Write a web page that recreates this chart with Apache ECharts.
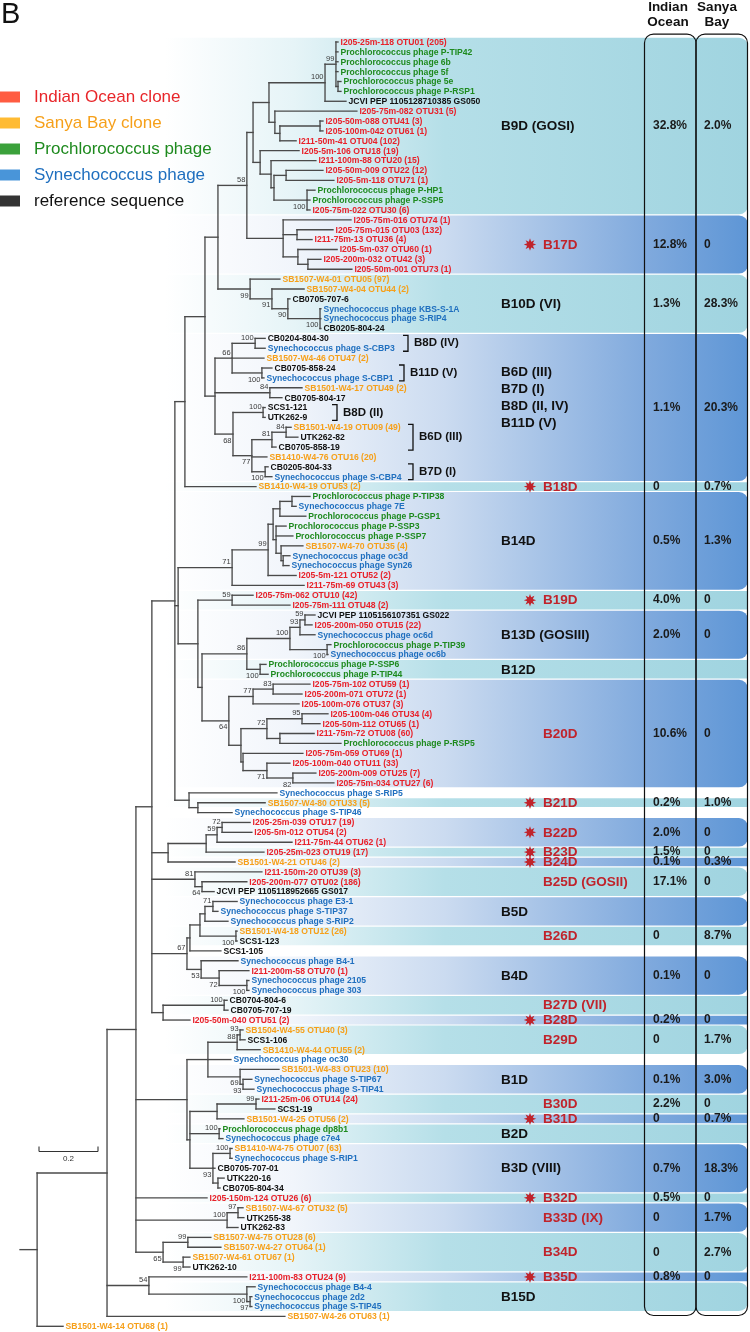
<!DOCTYPE html>
<html><head><meta charset="utf-8">
<script src="https://cdn.jsdelivr.net/npm/echarts@6/dist/echarts.min.js"></script>
<style>html,body{margin:0;padding:0;background:#fff}#c{width:750px;height:1332px}</style>
</head><body><div id="c"></div>
<script>
// ---------------- DATA ----------------
const leafNames = [
'I205-25m-118 OTU01 (205)','Prochlorococcus phage P-TIP42','Prochlorococcus phage 6b','Prochlorococcus phage 5f','Prochlorococcus phage 5e',
'Prochlorococcus phage P-RSP1','JCVI PEP 1105128710385 GS050','I205-75m-082 OTU31 (5)','I205-50m-088 OTU41 (3)','I205-100m-042 OTU61 (1)',
'I211-50m-41 OTU04 (102)','I205-5m-106 OTU18 (19)','I211-100m-88 OTU20 (15)','I205-50m-009 OTU22 (12)','I205-5m-118 OTU71 (1)',
'Prochlorococcus phage P-HP1','Prochlorococcus phage P-SSP5','I205-75m-022 OTU30 (6)','I205-75m-016 OTU74 (1)','I205-75m-015 OTU03 (132)',
'I211-75m-13 OTU36 (4)','I205-5m-037 OTU60 (1)','I205-200m-032 OTU42 (3)','I205-50m-001 OTU73 (1)','SB1507-W4-01 OTU05 (97)',
'SB1507-W4-04 OTU44 (2)','CB0705-707-6','Synechococcus phage KBS-S-1A','Synechococcus phage S-RIP4','CB0205-804-24',
'CB0204-804-30','Synechococcus phage S-CBP3','SB1507-W4-46 OTU47 (2)','CB0705-858-24','Synechococcus phage S-CBP1',
'SB1501-W4-17 OTU49 (2)','CB0705-804-17','SCS1-121','UTK262-9','SB1501-W4-19 OTU09 (49)',
'UTK262-82','CB0705-858-19','SB1410-W4-76 OTU16 (20)','CB0205-804-33','Synechococcus phage S-CBP4',
'SB1410-W4-19 OTU53 (2)','Prochlorococcus phage P-TIP38','Synechococcus phage 7E','Prochlorococcus phage P-GSP1','Prochlorococcus phage P-SSP3',
'Prochlorococcus phage P-SSP7','SB1507-W4-70 OTU35 (4)','Synechococcus phage oc3d','Synechococcus phage Syn26','I205-5m-121 OTU52 (2)',
'I211-75m-69 OTU43 (3)','I205-75m-062 OTU10 (42)','I205-75m-111 OTU48 (2)','JCVI PEP 1105156107351 GS022','I205-200m-050 OTU15 (22)',
'Synechococcus phage oc6d','Prochlorococcus phage P-TIP39','Synechococcus phage oc6b','Prochlorococcus phage P-SSP6','Prochlorococcus phage P-TIP44',
'I205-75m-102 OTU59 (1)','I205-200m-071 OTU72 (1)','I205-100m-076 OTU37 (3)','I205-100m-046 OTU34 (4)','I205-50m-112 OTU65 (1)',
'I211-75m-72 OTU08 (60)','Prochlorococcus phage P-RSP5','I205-75m-059 OTU69 (1)','I205-100m-040 OTU11 (33)','I205-200m-009 OTU25 (7)',
'I205-75m-034 OTU27 (6)','Synechococcus phage S-RIP5','SB1507-W4-80 OTU33 (5)','Synechococcus phage S-TIP46','I205-25m-039 OTU17 (19)',
'I205-5m-012 OTU54 (2)','I211-75m-44 OTU62 (1)','I205-25m-023 OTU19 (17)','SB1501-W4-21 OTU46 (2)','I211-150m-20 OTU39 (3)',
'I205-200m-077 OTU02 (186)','JCVI PEP 1105118952665 GS017','Synechococcus phage E3-1','Synechococcus phage S-TIP37','Synechococcus phage S-RIP2',
'SB1501-W4-18 OTU12 (26)','SCS1-123','SCS1-105','Synechococcus phage B4-1','I211-200m-58 OTU70 (1)',
'Synechococcus phage 2105','Synechococcus phage 303','CB0704-804-6','CB0705-707-19','I205-50m-040 OTU51 (2)',
'SB1504-W4-55 OTU40 (3)','SCS1-106','SB1410-W4-44 OTU55 (2)','Synechococcus phage oc30','SB1501-W4-83 OTU23 (10)',
'Synechococcus phage S-TIP67','Synechococcus phage S-TIP41','I211-25m-06 OTU14 (24)','SCS1-19','SB1501-W4-25 OTU56 (2)',
'Prochlorococcus phage dp8b1','Synechococcus phage c7e4','SB1410-W4-75 OTU07 (63)','Synechococcus phage S-RIP1','CB0705-707-01',
'UTK220-16','CB0705-804-34','I205-150m-124 OTU26 (6)','SB1507-W4-67 OTU32 (5)','UTK255-38',
'UTK262-83','SB1507-W4-75 OTU28 (6)','SB1507-W4-27 OTU64 (1)','SB1507-W4-61 OTU67 (1)','UTK262-10',
'I211-100m-83 OTU24 (9)','Synechococcus phage B4-4','Synechococcus phage 2d2','Synechococcus phage S-TIP45','SB1507-W4-26 OTU63 (1)',
'SB1501-W4-14 OTU68 (1)'];

// Tree topology: leaves are 1-based indices into leafNames; the number after ':' is the
// distance from the root (substitutions/site); numbers after ')' are bootstrap values.
const A_GOSI  = '(1:1.078,2:1.078,3:1.078,4:1.078,(5:1.088,6:1.088):1.078)99:1.071';
const B_GOSI  = '(' + A_GOSI + ',7:1.105)100:1.034';
const N8_11   = '(8:1.142,((9:1.027,10:1.027):1.017,11:0.936):0.881):0.864';
const N12_18  = '(12:0.946,(13:1.003,((14:1.027,15:1.064):0.902,(16:1.000,17:0.983,18:0.983)100:0.973):0.861):0.851):0.814';
const T_B9D   = '((' + B_GOSI + ',' + N8_11 + '):0.844,' + N12_18 + '):0.790';
const N_B17D  = '(19:1.122,(20:1.061,21:0.990):0.939,(22:1.075,(23:1.020,24:1.125):0.976):0.942):0.892';
const N_B10D  = '(25:0.881,(26:0.963,(27:0.915,(28:1.020,29:1.020,30:1.020)100:1.017)90:0.908)91:0.854)99:0.780';
const N1_30   = '((' + T_B9D + ',' + N_B17D + ')58:0.769,' + N_B10D + '):0.671';
const N66     = '((31:0.831,32:0.831)100:0.797,33:0.827,(34:0.854,35:0.827)100:0.820)66:0.719';
const N84     = '(36:0.956,37:0.888)84:0.847';
const N68     = '((38:0.831,39:0.831)100:0.824,(((40:0.919,41:0.942)84:0.902,42:0.868)81:0.854,43:0.837,(44:0.841,45:0.854)100:0.831)77:0.786)68:0.722';
const N185    = '((' + N1_30 + ',(' + N66 + ',' + N84 + ',' + N68 + '):0.661):0.627,46:0.800):0.559';
const N_B14D  = '(((((47:0.983,48:0.936):0.922,49:0.969):0.881,(50:0.902,51:0.925,(52:0.959,(53:0.915,54:0.912):0.892):0.885):0.868):0.858,55:0.936)99:0.841,56:0.963)71:0.719';
const N_B19D  = '(57:0.790,58:0.915)59:0.719';
const N86     = '((((59:1.000,60:0.990)59:0.966,61:1.000)93:0.949,(62:1.054,63:1.044)100:1.041)100:0.915,(64:0.834,65:0.841)100:0.814)86:0.769';
const N_B20D  = '(((66:0.983,67:0.956)83:0.858,68:0.946)77:0.790,(((69:1.044,70:1.017)95:0.956,(71:0.997,72:1.088):0.881)72:0.837,(73:0.959,(74:0.915,(75:1.003,76:1.064)82:0.925)71:0.837):0.756):0.749)64:0.708';
const N178    = '(' + N_B14D + ',(' + N_B19D + ',(' + N86 + ',' + N_B20D + '):0.617):0.603):0.536';
const N189    = '(77:0.871,(78:0.831,79:0.719):0.603):0.573';
const N175    = '(' + N185 + ',' + N178 + ',' + N189 + '):0.525';
const N_F     = '((((80:0.780,81:0.786)72:0.685,82:0.922)59:0.668,83:0.827):0.631,84:0.729):0.502';
const N81     = '(85:0.820,(86:0.769,87:0.658)64:0.617)81:0.593';
const N67     = '(((((88:0.736,89:0.671)71:0.654,90:0.705):0.627,(91:0.736,92:0.736)100:0.732):0.610,93:0.681):0.576,(94:0.739,(95:0.776,(96:0.776,97:0.776)100:0.769)72:0.675)53:0.614)67:0.566';
const N_J     = '((98:0.702,99:0.705)100:0.692,100:0.576):0.485';
const N152    = '(' + N175 + ',' + N_F + ',' + N81 + ',' + N67 + ',' + N_J + '):0.447';
const N208    = '(((101:0.756,102:0.763)93:0.746,103:0.814)88:0.736,104:0.715,(105:0.878,(106:0.786,107:0.793)93:0.756)69:0.746):0.637';
const N190    = '(((108:0.810,109:0.864)99:0.800,110:0.759):0.668,(111:0.678,112:0.688)100:0.675,((113:0.719,114:0.719)100:0.712,115:0.661,(116:0.692,117:0.678):0.671)93:0.654):0.576';
const N100F   = '((119:0.756,120:0.759)97:0.739,121:0.739)100:0.702';
const N65     = '((122:0.647,123:0.681)99:0.569,(124:0.576,125:0.576)99:0.553)65:0.485';
const N136    = '(' + N152 + ',(' + N208 + ',' + N190 + '):0.566,118:0.634,' + N100F + ',' + N65 + '):0.393';
const N54     = '(126:0.769,(127:0.797,(128:0.786,129:0.786)97:0.780)100:0.769)54:0.437';
const TREE    = '((' + N136 + ',' + N54 + ',130:0.898):0.295,131:0.146):0.058';

// clades (leaf ranges, 1-based) and table values
const cladeNames = ['B9D (GOSI)','B17D','B10D (VI)','B6D (III)\nB7D (I)\nB8D (II, IV)\nB11D (V)','B18D','B14D','B19D','B13D (GOSIII)','B12D','B20D',
 'B21D','B22D','B23D','B24D','B25D (GOSII)','B5D','B26D','B4D','B27D (VII)','B28D','B29D','B1D','B30D','B31D','B2D','B3D (VIII)','B32D','B33D (IX)','B34D','B35D','B15D'];
const cladeFirst = [1,19,25,31,46,47,57,59,64,66,78,80,83,84,85,88,91,94,98,100,101,105,108,110,111,113,118,119,122,126,127];
const cladeLast  = [18,24,30,45,46,56,58,63,65,76,78,82,83,84,87,90,92,97,99,100,103,107,109,110,112,117,118,121,125,126,129];
const cladeNovel = [0,1,0,0,1,0,1,0,0,1,1,1,1,1,1,0,1,0,1,1,1,0,1,1,0,0,1,1,1,1,0];   // red (new) clusters
const cladeStar  = [0,1,0,0,1,0,1,0,0,0,1,1,1,1,0,0,0,0,0,1,0,0,0,1,0,0,1,0,0,1,0];
const indianOcean = ['32.8%','12.8%','1.3%','1.1%','0','0.5%','4.0%','2.0%','','10.6%','0.2%','2.0%','1.5%','0.1%','17.1%','','0','0.1%','','0.2%','0','0.1%','2.2%','0','','0.7%','0.5%','0','0','0.8%',''];
const sanyaBay    = ['2.0%','0','28.3%','20.3%','0.7%','1.3%','0','0','','0','1.0%','0','0','0.3%','0','','8.7%','0','','0','1.7%','3.0%','0','0.7%','','18.3%','0','1.7%','2.7%','0',''];

const subNames = ['B8D (IV)','B11D (V)','B8D (II)','B6D (III)','B7D (I)'];
const subFirst = [31,34,38,40,44];
const subLast  = [32,35,39,42,45];

const legendNames = ['Indian Ocean clone','Sanya Bay clone','Prochlorococcus phage','Synechococcus phage','reference sequence'];
const scaleBarValue = 0.2;

// ---------------- STYLE ----------------
const FONT = '"Liberation Sans", Arial, Helvetica, sans-serif';
const SRC_COLORS = {R:'#e8212a', O:'#f6a01a', G:'#1e8a1e', B:'#1f6fbf', K:'#111111'};
const LEGEND_COLORS = ['#ff3311','#ffaa00','#0a8a0a','#1b7bd0','#000000'];
const LEGEND_TEXT = ['#e8262a','#f6a01a','#1e8a1e','#1f6fbf','#111111'];
const BAND_X0 = 165, BAND_X1 = 748;
const BRACKET_X = [408, 404, 337, 413, 413];
function sourceOf(name){
  if (/^I2/.test(name)) return 'R';
  if (/^SB/.test(name)) return 'O';
  if (/^Prochlorococcus/.test(name)) return 'G';
  if (/^Synechococcus/.test(name)) return 'B';
  return 'K';
}

// ---------------- TREE PARSE / LAYOUT ----------------
function parseTree(s){
  let i = 0;
  function num(){ let t=''; while(i<s.length && /[0-9.]/.test(s[i])) t+=s[i++]; return t; }
  function node(){
    if (s[i] === '('){
      i++; const ch = [];
      while (true){ ch.push(node()); if (s[i]===','){i++;continue;} if (s[i]===')'){i++;break;} throw new Error('bad tree at '+i); }
      let boot=''; while(i<s.length && /[0-9]/.test(s[i])) boot+=s[i++];
      let d=0; if (s[i]===':'){ i++; d=+num(); }
      return {children:ch, boot:boot, depth:d};
    }
    const id = +num(); let d=0; if (s[i]===':'){ i++; d=+num(); }
    return {leaf:id-1, depth:d};
  }
  return node();
}
const root = parseTree(TREE);
const segs = [], boots = [], tips = [];
(function lay(n, isLast){
  if (n.leaf !== undefined){ n.y = n.leaf; tips.push([n.depth, n.y, n.leaf]); return; }
  n.children.forEach((c,k)=>lay(c, k===n.children.length-1));
  const f = n.children[0], l = n.children[n.children.length-1];
  n.y = (f.y + l.y)/2;
  segs.push([n.depth, f.y, n.depth, l.y]);
  n.children.forEach(c=>segs.push([n.depth, c.y, c.depth, c.y]));
  if (n.boot) boots.push([n.depth, n.y, n.boot, isLast?1:0]);
})(root, false);
segs.push([0, root.y, root.depth, root.y]);

// ---------------- CHART ----------------
const chart = echarts.init(document.getElementById('c'), null, {renderer:'canvas'});
function grad(kind){
  const stops = kind === 'blue'
    ? [{offset:0,color:'#ffffff'},{offset:0.22,color:'#f1f5fb'},{offset:0.48,color:'#cbdbf0'},{offset:0.83,color:'#7fa9dd'},{offset:1,color:'#5e96d6'}]
    : [{offset:0,color:'#ffffff'},{offset:0.22,color:'#e6f4f7'},{offset:0.48,color:'#b5dfe8'},{offset:1,color:'#a0d4e0'}];
  return new echarts.graphic.LinearGradient(BAND_X0, 0, BAND_X1, 0, stops, true);
}
const gBlue = grad('blue'), gTeal = grad('teal');
const cladeIdx = cladeNames.map((_,i)=>[cladeFirst[i]-1, cladeLast[i]-1, i]);

function rowEdge(api, v){ return api.coord([0, v])[1]; }

const series = [
  { // clade bands
    type:'custom', z:1, clip:false, silent:true, data:cladeIdx,
    renderItem(params, api){
      const i = params.dataIndex;
      const top = rowEdge(api, cladeFirst[i]-1-0.5) + 0.6;
      const bot = rowEdge(api, cladeLast[i]-1+0.5) - 0.6;
      const h = bot-top, r = h > 25 ? 9 : 0;
      return {type:'rect', shape:{x:BAND_X0, y:top, width:BAND_X1-BAND_X0, height:h, r:[0,r,r,0]},
              style:{fill: (i%2===0) ? gTeal : gBlue}};
    }
  },
  { // table column boxes
    type:'custom', z:5, clip:false, silent:true, data:[[0,0]],
    renderItem(params, api){
      const top = rowEdge(api, cladeFirst[0]-1-0.5) - 3;
      const bot = rowEdge(api, cladeLast[cladeLast.length-1]-1+0.5) + 4;
      const st = {fill:'none', stroke:'#111', lineWidth:1.2};
      return {type:'group', children:[
        {type:'rect', shape:{x:644.5, y:top, width:51.5, height:bot-top, r:9}, style:st},
        {type:'rect', shape:{x:696, y:top, width:51.5, height:bot-top, r:9}, style:st}
      ]};
    }
  },
  { // branches
    type:'custom', z:3, clip:false, silent:true, data:segs,
    renderItem(params, api){
      const p1 = api.coord([api.value(0), api.value(1)]);
      const p2 = api.coord([api.value(2), api.value(3)]);
      return {type:'line', shape:{x1:p1[0], y1:p1[1], x2:p2[0], y2:p2[1]},
              style:{stroke:'#4a4a4a', lineWidth:1.35, lineCap:'square'}};
    }
  },
  { // leaf labels
    type:'custom', z:4, clip:false, silent:true, data:tips,
    renderItem(params, api){
      const p = api.coord([api.value(0), api.value(1)]);
      const name = leafNames[api.value(2)];
      return {type:'text', style:{x:p[0]+2.5, y:p[1]+0.5, text:name, fill:SRC_COLORS[sourceOf(name)],
        font:'bold 8.6px '+FONT, textAlign:'left', textVerticalAlign:'middle', align:'left', verticalAlign:'middle'}};
    }
  },
  { // bootstrap values
    type:'custom', z:4, clip:false, silent:true, data:boots,
    renderItem(params, api){
      const p = api.coord([api.value(0), api.value(1)]);
      const below = boots[params.dataIndex][3] === 1;
      return {type:'text', style:{x:p[0]-1.5, y:p[1] + (below ? 6.5 : -5.5), text:String(boots[params.dataIndex][2]),
        fill:'#3a3a3a', font:'7.5px '+FONT, textAlign:'right', textVerticalAlign:'middle', align:'right', verticalAlign:'middle'}};
    }
  },
  { // clade names, stars and percentages
    type:'custom', z:6, clip:false, silent:true, data:cladeIdx,
    renderItem(params, api){
      const i = params.dataIndex;
      const yc = (rowEdge(api, cladeFirst[i]-1) + rowEdge(api, cladeLast[i]-1))/2;
      const novel = cladeNovel[i] === 1;
      const multi = cladeNames[i].indexOf('\n') >= 0;
      const kids = [];
      kids.push({type:'text', style:{x: novel ? 543 : 501, y: yc + 0.5 - (multi ? 10 : 0), text: cladeNames[i],
        fill: novel ? '#c0232b' : '#111', font:'bold 13.5px '+FONT, lineHeight:17,
        textAlign:'left', textVerticalAlign:'middle', align:'left', verticalAlign:'middle'}});
      if (cladeStar[i]){
        const pts=[], cx=530, cy=yc;
        for (let k=0;k<16;k++){ const a=Math.PI*k/8 - Math.PI/2; const r = k%2===0 ? 6.2 : 3.1; pts.push([cx+r*Math.cos(a), cy+r*Math.sin(a)]); }
        kids.push({type:'polygon', shape:{points:pts}, style:{fill:'#c0232b'}});
      }
      const pf = {font:'bold 12px '+FONT, fill:'#1a1a1a', textAlign:'left', textVerticalAlign:'middle', align:'left', verticalAlign:'middle'};
      if (indianOcean[i]) kids.push({type:'text', style:Object.assign({x:653, y:yc, text:indianOcean[i]}, pf)});
      if (sanyaBay[i]) kids.push({type:'text', style:Object.assign({x:704, y:yc, text:sanyaBay[i]}, pf)});
      return {type:'group', children:kids};
    }
  },
  { // sub-clade brackets
    type:'custom', z:6, clip:false, silent:true, data:subNames.map((_,i)=>[i]),
    renderItem(params, api){
      const i = params.dataIndex;
      const t = rowEdge(api, subFirst[i]-1) - 3, b = rowEdge(api, subLast[i]-1) + 3, x = BRACKET_X[i];
      return {type:'group', children:[
        {type:'polyline', shape:{points:[[x-5,t],[x,t],[x,b],[x-5,b]]}, style:{stroke:'#111', lineWidth:1.3, fill:'none'}},
        {type:'text', style:{x:x+6, y:(t+b)/2, text:subNames[i], fill:'#111', font:'bold 11.5px '+FONT,
          textAlign:'left', textVerticalAlign:'middle', align:'left', verticalAlign:'middle'}}
      ]};
    }
  },
  { // scale bar
    type:'custom', z:6, clip:false, silent:true, data:[[0,0]],
    renderItem(params, api){
      const len = api.coord([scaleBarValue, 0])[0] - api.coord([0, 0])[0];
      const x0 = 39, y = 1151.5, x1 = x0 + len;
      const st = {stroke:'#333', lineWidth:1.1};
      return {type:'group', children:[
        {type:'line', shape:{x1:x0, y1:y, x2:x1, y2:y}, style:st},
        {type:'line', shape:{x1:x0, y1:y-5, x2:x0, y2:y}, style:st},
        {type:'line', shape:{x1:x1, y1:y-5, x2:x1, y2:y}, style:st},
        {type:'text', style:{x:(x0+x1)/2, y:y+7.5, text:String(scaleBarValue), fill:'#333', font:'8px '+FONT,
          textAlign:'center', textVerticalAlign:'middle', align:'center', verticalAlign:'middle'}}
      ]};
    }
  }
];
legendNames.forEach((n,k)=>series.push({type:'scatter', name:n, data:[], itemStyle:{color:LEGEND_COLORS[k]}}));

chart.setOption({
  animation:false,
  backgroundColor:'#ffffff',
  grid:{left:20, top:42, width:590, height:1284.3},
  xAxis:{type:'value', min:0, max:2, show:false},
  yAxis:{type:'value', min:0, max:130, inverse:true, show:false},
  legend:{
    orient:'vertical', left:0, top:87, padding:0, icon:'rect', itemWidth:20, itemHeight:11, itemGap:6,
    selectedMode:false,
    data: legendNames.map((n,k)=>({name:n, textStyle:{color:LEGEND_TEXT[k]}})),
    textStyle:{fontSize:17, fontFamily:FONT, lineHeight:20, padding:[0,0,0,9]}
  },
  graphic:[
    {type:'text', left:1, top:0, style:{text:'B', font:'29px '+FONT, fill:'#111'}},
    {type:'text', x:668, y:0, style:{text:'Indian\nOcean', font:'bold 13.5px '+FONT, lineHeight:15, fill:'#111', textAlign:'center', align:'center'}},
    {type:'text', x:717, y:0, style:{text:'Sanya\nBay', font:'bold 13.5px '+FONT, lineHeight:15, fill:'#111', textAlign:'center', align:'center'}}
  ],
  series: series
});
</script></body></html>
